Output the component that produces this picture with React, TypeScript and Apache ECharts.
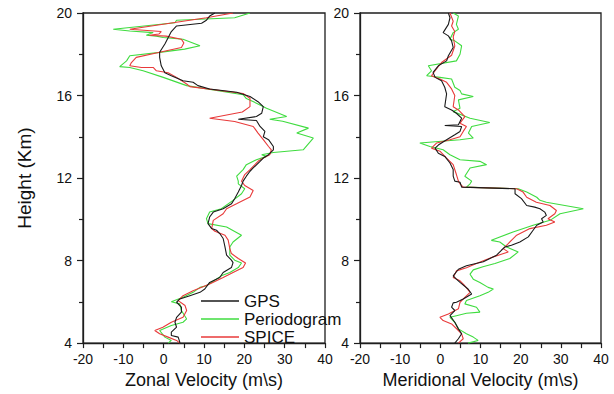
import React, { useEffect, useRef } from 'react';
import * as echarts from 'echarts';

const seriesNames = ['GPS', 'Periodogram', 'SPICE'];
const seriesColors = ['#1a1a1a', '#3fdc3f', '#e83a3a'];
const xTitles = ['Zonal Velocity (m\\s)', 'Meridional Velocity (m\\s)'];
const yTitle = 'Height (Km)';

// [velocity (m/s), height (km)]
const zonalGps: number[][] = [
  [12.7, 20], [11.4, 19.85], [10.6, 19.65], [9.4, 19.5], [3.2, 19.37], [1.9, 19.1], [1.1, 18.8], [0.3, 18.5],
  [-1.0, 18.1], [-1.0, 17.85], [-0.6, 17.44], [0.3, 17.1], [1.9, 16.96], [4.8, 16.72], [7.3, 16.64], [8.5, 16.48],
  [11.4, 16.32], [18.1, 16.16], [21.4, 15.95], [23.4, 15.7], [24.7, 15.46], [24.3, 15.14], [23.0, 14.98], [18.5, 14.85],
  [23.0, 14.79], [23.9, 14.5], [25.1, 14.26], [24.7, 14.0], [26.0, 13.86], [27.2, 13.53], [27.2, 13.37], [26.0, 13.13],
  [24.7, 12.97], [23.9, 12.81], [22.2, 12.49], [21.4, 12.33], [20.5, 12.09], [19.7, 11.85], [19.3, 11.64], [18.5, 11.32],
  [17.6, 11.0], [16.8, 10.75], [14.75, 10.51], [12.3, 10.35], [11.4, 10.11], [11.0, 9.79], [11.9, 9.55], [13.1, 9.47],
  [13.9, 9.31], [14.75, 9.07], [15.2, 8.66], [15.6, 8.26], [16.8, 8.02], [17.2, 7.9], [16.8, 7.66], [14.75, 7.42],
  [13.9, 7.18], [11.4, 6.94], [10.2, 6.62], [9.0, 6.46], [6.5, 6.3], [4.0, 6.14], [3.2, 5.98], [4.4, 5.74], [4.4, 5.5],
  [3.2, 5.25], [2.8, 5.01], [3.2, 4.77], [1.9, 4.53], [1.9, 4.37], [3.6, 4.29], [4.0, 4.05], [4.0, 4.0],
];
const zonalPer: number[][] = [
  [21.4, 20], [17.6, 19.77], [3.2, 19.65], [2.8, 19.53], [-12.5, 19.21], [-8.4, 19.13], [-2.6, 19.05], [-4.3, 18.92],
  [-1.8, 18.88], [-0.1, 18.81], [4.8, 18.73], [9.0, 18.41], [5.2, 18.25], [-1.0, 18.09], [-8.4, 17.93], [-9.2, 17.68],
  [-10.9, 17.4], [-8.4, 17.36], [-5.1, 17.2], [-0.1, 16.88], [5.7, 16.48], [19.7, 16.04], [20.5, 15.85], [23.0, 15.63],
  [25.5, 15.38], [30.5, 14.98], [26.3, 14.85], [29.5, 14.75], [35.9, 14.42], [33.0, 14.18], [37.1, 13.94], [34.6, 13.37],
  [27.2, 13.24], [24.3, 13.13], [25.5, 13.05], [23.0, 12.89], [20.5, 12.65], [19.7, 12.41], [18.1, 12.09], [18.5, 11.85],
  [18.5, 11.72], [20.1, 11.48], [19.3, 11.24], [17.2, 10.92], [14.3, 10.51], [11.4, 10.35], [10.6, 10.03], [11.0, 9.79],
  [15.6, 9.63], [19.3, 9.23], [17.2, 8.9], [16.4, 8.66], [16.4, 8.26], [17.6, 8.02], [19.3, 7.88], [18.5, 7.66],
  [16.4, 7.42], [14.3, 7.26], [10.6, 6.78], [9.0, 6.7], [7.3, 6.46], [4.8, 6.22], [1.9, 6.0], [4.0, 5.9], [4.4, 5.58],
  [5.7, 5.17], [4.8, 5.01], [1.9, 4.85], [-1.0, 4.61], [0.3, 4.29], [1.9, 4.13], [1.1, 4.0],
];
const zonalSpice: number[][] = [
  [17.2, 20], [10.6, 19.77], [-8.4, 19.21], [-0.6, 19.1], [-1.2, 18.98], [-3.5, 18.92], [0.6, 18.88], [4.4, 18.73],
  [5.0, 18.55], [4.4, 18.33], [-1.0, 18.1], [-6.8, 17.85], [-8.0, 17.6], [-8.4, 17.44], [-5.5, 17.36], [-2.6, 17.36],
  [-1.8, 17.2], [1.1, 17.1], [3.2, 16.88], [5.7, 16.56], [6.5, 16.43], [19.7, 16.1], [21.4, 15.87], [21.4, 15.46],
  [19.5, 15.2], [11.4, 14.9], [17.6, 14.74], [22.2, 14.5], [23.4, 14.18], [24.7, 13.86], [26.0, 13.53], [26.7, 13.37],
  [26.3, 13.13], [24.7, 12.97], [23.4, 12.81], [21.4, 12.41], [20.1, 12.17], [19.3, 11.85], [20.1, 11.64], [22.2, 11.4],
  [21.4, 11.08], [18.06, 10.75], [15.6, 10.51], [14.75, 10.27], [12.3, 9.95], [11.9, 9.55], [12.7, 9.42], [15.2, 9.23],
  [16.0, 8.99], [16.4, 8.58], [16.8, 8.34], [18.5, 8.1], [20.3, 7.88], [19.7, 7.66], [17.2, 7.42], [14.75, 7.18],
  [11.4, 6.86], [7.3, 6.54], [4.8, 6.3], [3.6, 6.06], [5.3, 5.82], [5.7, 5.58], [4.8, 5.25], [1.9, 5.01], [-0.2, 4.77],
  [-2.2, 4.61], [-1.0, 4.45], [1.1, 4.29], [3.2, 4.13], [4.0, 4.0],
];

const merGps: number[][] = [
  [2.0, 20], [2.4, 19.77], [2.0, 19.45], [0.7, 19.05], [2.0, 18.89], [2.8, 18.65], [3.2, 18.33], [2.0, 17.93],
  [1.56, 17.68], [-0.5, 17.44], [-1.8, 17.12], [-1.3, 16.88], [0.3, 16.72], [1.1, 16.4], [1.56, 16.08], [1.1, 15.46],
  [2.8, 15.3], [4.0, 15.14], [5.3, 14.9], [4.5, 14.58], [1.1, 14.55], [5.3, 14.5], [4.9, 14.26], [3.6, 14.1],
  [1.56, 13.86], [-0.5, 13.6], [-1.3, 13.45], [-0.5, 13.2], [1.1, 13.05], [2.4, 12.73], [3.2, 12.41], [3.2, 12.09],
  [3.6, 11.85], [4.9, 11.8], [5.3, 11.56], [18.6, 11.48], [18.6, 11.24], [20.2, 11.0], [21.5, 10.67], [23.5, 10.59],
  [24.8, 10.51], [26.0, 10.35], [26.4, 10.19], [25.2, 10.03], [25.6, 9.87], [24.0, 9.71], [23.1, 9.47], [21.9, 9.15],
  [19.8, 8.9], [17.7, 8.74], [16.1, 8.66], [15.2, 8.5], [14.0, 8.26], [10.7, 7.94], [6.5, 7.75], [4.5, 7.58],
  [3.2, 7.26], [4.0, 7.1], [4.9, 6.94], [6.9, 6.62], [7.8, 6.38], [5.7, 6.14], [4.0, 5.98], [3.2, 5.95], [2.8, 5.74],
  [3.6, 5.58], [2.4, 5.33], [3.6, 5.01], [4.5, 4.69], [5.3, 4.45], [4.5, 4.21], [3.6, 4.0],
];
const merPer: number[][] = [
  [3.2, 20], [4.5, 19.85], [4.0, 19.45], [4.5, 19.21], [3.2, 19.05], [2.4, 18.73], [3.6, 18.65], [5.3, 18.41],
  [4.9, 18.0], [4.0, 17.68], [-3.0, 17.44], [-2.2, 17.2], [-3.4, 16.96], [-0.1, 16.88], [2.8, 16.8], [3.6, 16.4],
  [4.9, 16.24], [5.3, 16.08], [8.2, 15.95], [4.5, 15.79], [4.9, 15.38], [3.2, 15.22], [7.4, 14.9], [12.3, 14.69],
  [7.8, 14.5], [7.0, 14.18], [8.2, 13.94], [4.9, 13.86], [-5.1, 13.7], [-2.6, 13.53], [0.7, 13.37], [2.4, 13.13],
  [4.9, 12.89], [9.85, 12.81], [11.5, 12.65], [7.4, 12.49], [6.1, 12.09], [7.8, 11.85], [7.4, 11.72], [6.5, 11.56],
  [19.4, 11.48], [21.5, 11.32], [24.0, 11.07], [24.8, 10.92], [26.4, 10.83], [35.6, 10.51], [29.8, 10.27], [27.3, 9.95],
  [23.1, 9.71], [18.1, 9.39], [12.7, 8.98], [14.8, 8.9], [16.5, 8.66], [19.4, 8.42], [17.3, 8.1], [13.6, 7.86],
  [10.6, 7.7], [8.2, 7.55], [7.4, 7.34], [8.2, 7.1], [9.85, 6.94], [11.9, 6.7], [13.2, 6.62], [11.9, 6.46], [9.85, 6.3],
  [6.5, 6.06], [6.1, 5.9], [9.0, 5.74], [9.85, 5.5], [6.5, 5.45], [4.0, 5.33], [2.4, 5.25], [3.6, 5.01], [4.5, 4.69],
  [6.5, 4.45], [8.2, 4.29], [9.4, 4.13], [6.9, 4.0],
];
const merSpice: number[][] = [
  [2.4, 20], [3.2, 19.6], [2.8, 19.37], [3.6, 19.1], [3.2, 18.85], [3.6, 18.4], [2.8, 17.95], [0.3, 17.6],
  [-1.3, 17.2], [-2.2, 16.96], [-0.1, 16.8], [1.56, 16.64], [2.8, 16.32], [3.6, 16.0], [3.2, 15.46], [4.5, 15.3],
  [6.1, 14.98], [4.9, 14.66], [6.5, 14.5], [5.7, 14.26], [4.9, 14.0], [2.4, 13.86], [-0.9, 13.7], [-2.2, 13.45],
  [-0.1, 13.3], [1.56, 12.97], [3.2, 12.65], [4.0, 12.17], [4.5, 11.85], [4.9, 11.72], [5.7, 11.56], [19.0, 11.48],
  [20.6, 11.32], [21.5, 11.07], [23.9, 10.83], [27.3, 10.67], [28.9, 10.43], [28.5, 10.27], [26.8, 10.03], [28.5, 9.87],
  [26.4, 9.71], [22.3, 9.55], [19.0, 9.23], [16.9, 8.82], [15.65, 8.58], [16.9, 8.42], [13.2, 8.18], [9.0, 7.86],
  [6.5, 7.65], [4.0, 7.5], [3.2, 7.18], [4.9, 7.02], [6.1, 6.78], [7.4, 6.46], [6.1, 6.22], [4.9, 5.98], [4.5, 5.66],
  [2.0, 5.41], [-0.1, 5.25], [0.7, 5.09], [2.8, 4.93], [4.5, 4.61], [5.3, 4.45], [5.7, 4.21], [4.5, 4.0],
];

export default function App() {
  const ref = useRef<HTMLDivElement>(null);
  useEffect(() => {
    if (!ref.current) return;
    const chart = echarts.init(ref.current, null, { renderer: 'svg' });
    const font = '"Liberation Sans", Arial, sans-serif';
    const axisColor = '#1e1e1e';
    const mkX = (gridIndex: number, name: string) => ({
      type: 'value', gridIndex, min: -20, max: 40, interval: 10,
      name, nameLocation: 'middle', nameGap: 27,
      nameTextStyle: { fontSize: 18, color: '#111', fontFamily: font },
      axisLine: { show: true, onZero: false, lineStyle: { color: axisColor, width: 1.3 } },
      axisTick: { show: true, length: 5, lineStyle: { color: axisColor, width: 1.2 } },
      minorTick: { show: true, splitNumber: 2, length: 5, lineStyle: { color: axisColor, width: 1.2 } },
      axisLabel: { fontSize: 14, color: '#111', margin: 9, fontFamily: font },
      splitLine: { show: false },
      minorSplitLine: { show: false },
    });
    const mkY = (gridIndex: number, name: string) => ({
      type: 'value', gridIndex, min: 4, max: 20, interval: 4,
      name, nameLocation: 'middle', nameGap: 49, nameRotate: 90,
      nameTextStyle: { fontSize: 19, color: '#111', fontFamily: font },
      axisLine: { show: true, onZero: false, lineStyle: { color: axisColor, width: 1.3 } },
      axisTick: { show: true, length: 6, lineStyle: { color: axisColor, width: 1.2 } },
      minorTick: { show: true, splitNumber: 2, length: 4, lineStyle: { color: axisColor, width: 1.2 } },
      axisLabel: { fontSize: 14, color: '#111', margin: 11, fontFamily: font },
      splitLine: { show: false },
      minorSplitLine: { show: false },
    });
    const panels = [
      [zonalGps, zonalPer, zonalSpice],
      [merGps, merPer, merSpice],
    ];
    const drawOrder = [1, 2, 0];
    const series: any[] = [];
    panels.forEach((sets, p) => {
      drawOrder.forEach((i) => {
        series.push({
          type: 'line', name: seriesNames[i], xAxisIndex: p, yAxisIndex: p,
          data: sets[i], symbol: 'none', showSymbol: false,
          lineStyle: { color: seriesColors[i], width: 1.1 },
          itemStyle: { color: seriesColors[i] },
          z: 2 + drawOrder.indexOf(i),
        });
      });
    });
    chart.setOption({
      animation: false,
      backgroundColor: '#fff',
      grid: [
        { left: 83, top: 13, width: 242, height: 332, show: true, borderColor: axisColor, borderWidth: 1.3 },
        { left: 360, top: 13, width: 241, height: 332, show: true, borderColor: axisColor, borderWidth: 1.3 },
      ],
      xAxis: [mkX(0, xTitles[0]), mkX(1, xTitles[1])],
      yAxis: [mkY(0, yTitle), mkY(1, '')],
      legend: {
        data: seriesNames, orient: 'vertical', left: 196, top: 287,
        icon: 'rect', itemWidth: 38, itemHeight: 1.3, itemGap: 0,
        textStyle: { fontSize: 17, color: '#111', fontFamily: font, lineHeight: 18 },
        backgroundColor: 'transparent',
      },
      series,
    });
    return () => chart.dispose();
  }, []);
  return <div ref={ref} style={{ position: 'fixed', left: 0, top: 0, width: 614, height: 394 }} />;
}
